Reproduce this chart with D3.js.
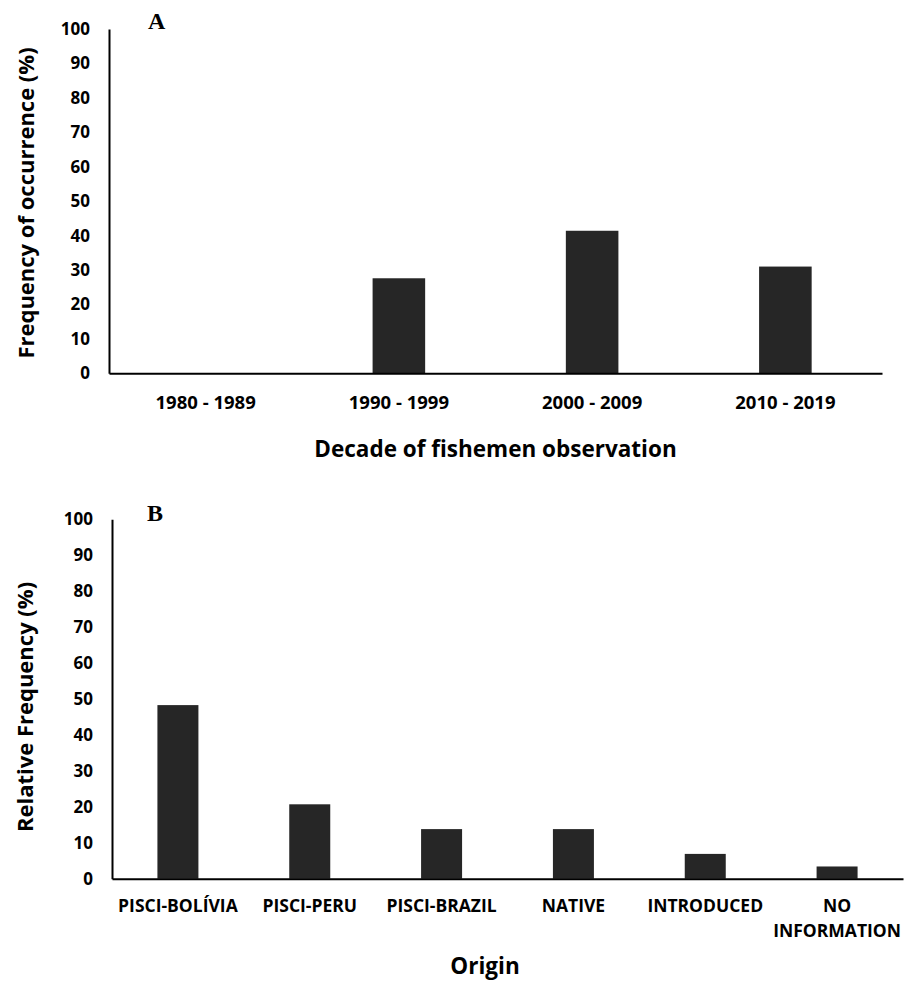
<!DOCTYPE html>
<html>
<head>
<meta charset="utf-8">
<script src="https://cdn.jsdelivr.net/npm/d3@7/dist/d3.min.js"></script>
<style>
  body { margin: 0; background: #fff; }
  svg { display: block; }
</style>
</head>
<body>
<svg id="chart" width="904" height="981"></svg>
<script>
// Panel A data
const decades = ["1980 - 1989", "1990 - 1999", "2000 - 2009", "2010 - 2019"];
const decadeValues = [0, 27.6, 41.4, 31.0];
// Panel B data
const origins = ["PISCI-BOLÍVIA", "PISCI-PERU", "PISCI-BRAZIL", "NATIVE", "INTRODUCED", "NO INFORMATION"];
const originValues = [48.3, 20.7, 13.8, 13.8, 6.9, 3.4];
const yTicks = [0, 10, 20, 30, 40, 50, 60, 70, 80, 90, 100];

const FONT = "'Open Sans', 'DejaVu Sans', sans-serif";
const BAR = "#262626";
const svg = d3.select("#chart");

function panel(cfg) {
  const x = d3.scaleBand().domain(cfg.cats).range([cfg.x0, cfg.x1])
    .paddingInner(cfg.pad).paddingOuter(cfg.pad / 2);
  const y = d3.scaleLinear().domain([0, 100]).range([cfg.y0, cfg.y1]);
  const g = svg.append("g");

  g.selectAll("rect.bar").data(cfg.vals).join("rect")
    .attr("class", "bar")
    .attr("x", (d, i) => x(cfg.cats[i]))
    .attr("width", x.bandwidth())
    .attr("y", d => y(d))
    .attr("height", d => y(0) - y(d))
    .attr("fill", BAR);

  const ya = g.append("g").attr("transform", `translate(${cfg.x0},0)`)
    .call(d3.axisLeft(y).tickValues(yTicks).tickSize(0).tickSizeOuter(0).tickPadding(19));
  ya.select(".domain").attr("stroke", "#000").attr("stroke-width", 2);
  ya.selectAll("text").attr("font-family", FONT).attr("font-weight", 700)
    .attr("font-size", 17).attr("fill", "#000");

  const xa = g.append("g").attr("transform", `translate(0,${cfg.y0})`)
    .call(d3.axisBottom(x).tickSize(0).tickSizeOuter(0));
  xa.select(".domain").attr("stroke", "#000").attr("stroke-width", 2);
  xa.selectAll("text").attr("font-family", FONT).attr("font-weight", 700)
    .attr("font-size", cfg.xFont).attr("fill", "#000")
    .attr("dy", null).attr("y", cfg.labelOff)
    .each(function (d) {
      if (!cfg.wrap || d.indexOf(" ") < 0) return;
      const t = d3.select(this); const words = d.split(" ");
      t.text(null);
      words.forEach((w, i) => t.append("tspan").attr("x", 0)
        .attr("y", cfg.labelOff + i * 25.5).text(w));
    });

  svg.append("text").attr("x", (cfg.x0 + cfg.x1) / 2 + cfg.titleShift).attr("y", cfg.titleY)
    .attr("text-anchor", "middle").attr("font-family", FONT).attr("font-weight", 700)
    .attr("font-size", 22.5).attr("fill", "#000").text(cfg.xTitle);

  svg.append("text").attr("transform", `translate(${cfg.yTitleX},${cfg.yTitleCY}) rotate(-90)`)
    .attr("text-anchor", "middle").attr("font-family", FONT).attr("font-weight", 700)
    .attr("font-size", 22).attr("fill", "#000").text(cfg.yTitle);

  svg.append("text").attr("x", cfg.letterX).attr("y", cfg.letterY)
    .attr("font-family", "'Liberation Serif', 'Times New Roman', serif").attr("font-weight", 700)
    .attr("font-size", 24).attr("fill", "#000").text(cfg.letter);
}

panel({
  cats: decades, vals: decadeValues, x0: 109, x1: 882, y0: 373.3, y1: 29, pad: 0.728,
  labelOff: 36, xFont: 18.5, wrap: false, xTitle: "Decade of fishemen observation", titleY: 457, titleShift: 0,
  yTitle: "Frequency of occurrence (%)", yTitleX: 34, yTitleCY: 203,
  letter: "A", letterX: 148, letterY: 29
});

panel({
  cats: origins, vals: originValues, x0: 112, x1: 903, y0: 878.7, y1: 519.3, pad: 0.689,
  labelOff: 33, xFont: 17.5, wrap: true, xTitle: "Origin", titleY: 974, titleShift: -22.5,
  yTitle: "Relative Frequency (%)", yTitleX: 33, yTitleCY: 707,
  letter: "B", letterX: 147, letterY: 521
});
</script>
</body>
</html>
